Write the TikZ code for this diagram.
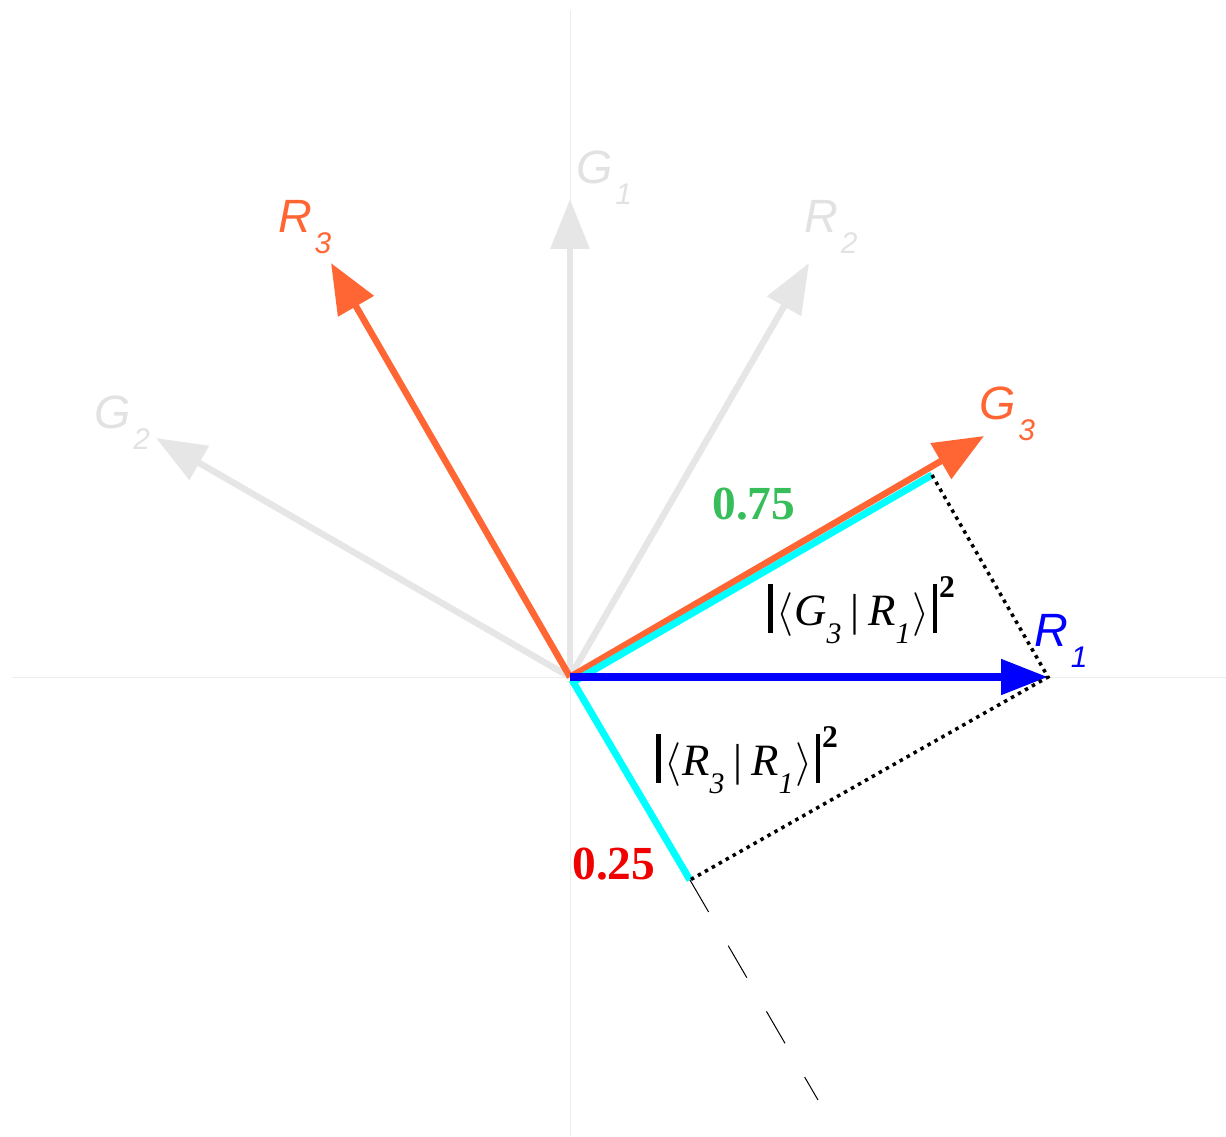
\documentclass[tikz,border=0pt]{standalone}
\usepackage{fontspec}
\setmainfont{Liberation Serif}
\newfontfamily\lsans{Liberation Sans}
\usetikzlibrary{arrows.meta}
\definecolor{orng}{RGB}{255,102,51}
\definecolor{lgray}{RGB}{230,230,230}
\definecolor{lblgray}{RGB}{226,226,226}
\definecolor{axgray}{RGB}{238,238,238}
\definecolor{cyn}{RGB}{0,255,255}
\definecolor{blu}{RGB}{0,0,255}
\definecolor{grn}{RGB}{55,190,90}
\definecolor{rd}{RGB}{240,0,0}
\newcommand\veclbl[2]{{\lsans\itshape\fontsize{26.6}{30}\selectfont #1\kern1.5pt\raisebox{-0.45em}{\fontsize{17}{20}\selectfont #2}}}
\newcommand\obar{\rule[-4.5pt]{2.6pt}{28pt}}
\newcommand\bkt[4]{{\fontsize{25.5}{30}\selectfont\obar\kern2pt$\langle$\kern0.5pt\textit{#1}\raisebox{-0.42em}{\fontsize{17}{20}\selectfont\textit{#2}}\kern5pt|\kern5pt\textit{#3}\raisebox{-0.42em}{\fontsize{17}{20}\selectfont\textit{#4}}\kern1pt$\rangle$\kern2pt\obar\kern1pt\raisebox{0.62em}{\fontsize{18}{20}\selectfont\textbf{2}}}}
\tikzset{
  axis/.style={draw=axgray, line width=0.02cm},
  gvec/.style={draw=lgray, line width=0.13cm, -{Triangle[length=1cm,width=0.76cm]}},
  ovec/.style={draw=orng, line width=0.13cm, -{Triangle[length=1cm,width=0.8cm]}},
  bvec/.style={draw=blu, line width=0.16cm, -{Triangle[length=0.94cm,width=0.68cm]}},
  proj/.style={draw=cyn, line width=0.14cm},
  dotl/.style={draw=black, line width=0.07cm, dash pattern=on 0.07cm off 0.09cm},
  dashl/.style={draw=black, line width=0.02cm, dash pattern=on 0.74cm off 0.78cm},
  lbl/.style={inner sep=0pt, anchor=base west},
}
\begin{document}
\begin{tikzpicture}[x=0.02cm,y=-0.02cm]
\useasboundingbox (0,0) rectangle (1226,1136);
% coordinates
\coordinate (O) at (570,677);
\coordinate (axL) at (12,677);
\coordinate (axR) at (1226,677);
\coordinate (axT) at (570,10);
\coordinate (axB) at (570,1136);
\coordinate (G1) at (570,199);
\coordinate (R2) at (809,263);
\coordinate (G2) at (156,438);
\coordinate (R3) at (331,263);
\coordinate (G3) at (984,436);
\coordinate (R1) at (1048,677);
\coordinate (Cs) at (573,682);
\coordinate (Ce) at (932,475);
\coordinate (Ds) at (572,680);
\coordinate (De) at (690,880);
\coordinate (Df) at (818,1100);
% axes
\draw[axis] (axL) -- (axR);
\draw[axis] (axT) -- (axB);
% gray vectors
\draw[gvec] (O) -- (G1);
\draw[gvec] (O) -- (R2);
\draw[gvec] (O) -- (G2);
% orange vectors
\draw[ovec] (O) -- (R3);
\draw[ovec] (O) -- (G3);
% projections
\draw[proj] (Cs) -- (Ce);
\draw[proj] (Ds) -- (De);
% blue
\draw[bvec] (O) -- (R1);
% dotted and dashed
\draw[dotl] (Ce) -- (R1) -- (De);
\draw[dashl] (De) -- (Df);
% labels
\node[lbl, text=lblgray] (lG1) at (576,183) {\veclbl{G}{1}};
\node[lbl, text=lblgray] (lR2) at (804,232) {\veclbl{R}{2}};
\node[lbl, text=lblgray] (lG2) at (94,428) {\veclbl{G}{2}};
\node[lbl, text=orng] (lR3) at (278,232) {\veclbl{R}{3}};
\node[lbl, text=orng] (lG3) at (979,419) {\veclbl{G}{3}};
\node[lbl, text=blu] (lR1) at (1034,646) {\veclbl{R}{1}};
\node[lbl] (bk1) at (768,625) {\bkt{G}{3}{R}{1}};
\node[lbl] (bk2) at (656,775) {\bkt{R}{3}{R}{1}};
\node[lbl, text=grn] (n75) at (712,519) {\fontsize{27}{30}\selectfont\bfseries 0.75};
\node[lbl, text=rd] (n25) at (572,879) {\fontsize{27}{30}\selectfont\bfseries 0.25};
\end{tikzpicture}
\end{document}
